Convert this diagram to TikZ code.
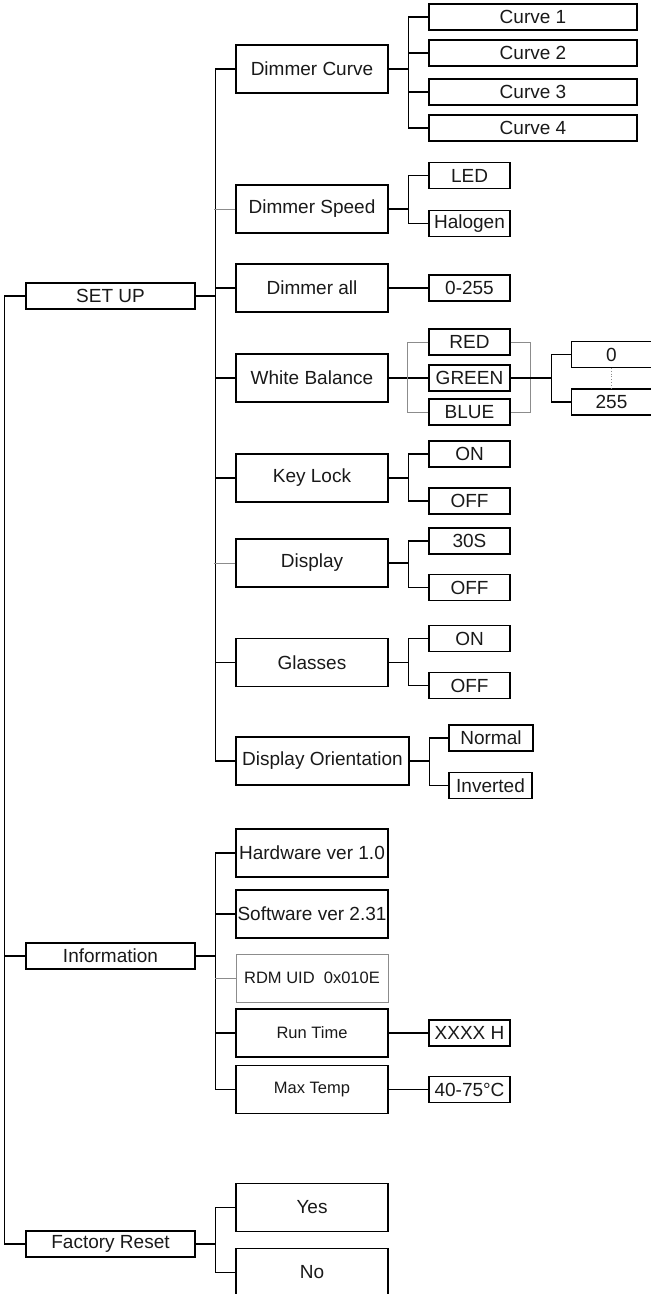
\documentclass[tikz,border=0pt]{standalone}
\usepackage{fontspec}
\setmainfont{Liberation Sans}

\begin{document}
\begin{tikzpicture}[x=1pt,y=-1pt,line width=1.1pt,font=\fontsize{19}{22}\selectfont]
    \tikzstyle{every node}=[draw,inner sep=0pt,line width=1.1pt,text=black!90]
    \tikzstyle{top}=[minimum width=169pt,minimum height=26pt]
    \tikzstyle{item}=[minimum width=152pt,minimum height=48pt]
    \tikzstyle{curve}=[minimum width=208pt,minimum height=26pt]
    \tikzstyle{value}=[minimum width=81pt,minimum height=26pt]
    \tikzstyle{faint}=[draw=black!45,line width=0.8pt]
    \tikzstyle{small}=[font=\fontsize{16.5}{19}\selectfont]
    \useasboundingbox (0,0) rectangle (651,1294);
    \node[top]  (setup)   at (110.5,296)  {SET UP};
    \node[top]  (info)    at (110.5,956)  {Information};
    \node[top]  (reset)   at (110.5,1244) {Factory Reset};
    \node[item] (dcurve)  at (312,69)     {Dimmer Curve};
    \node[item] (dspeed)  at (312,209)    {Dimmer Speed};
    \node[item] (dall)    at (312,288)    {Dimmer all};
    \node[item] (wbal)    at (312,378)    {White Balance};
    \node[item] (klock)   at (312,478)    {Key Lock};
    \node[item] (disp)    at (312,563)    {Display};
    \node[item] (glass)   at (312,662.5)  {Glasses};
    \node[item,minimum width=173pt] (dorient) at (322.5,761) {Display Orientation};
    \node[item] (hw)      at (312,853)    {Hardware ver 1.0};
    \node[item] (sw)      at (312,914)    {Software ver 2.31};
    \node[item,small,faint] (rdm) at (312,978) {RDM UID\ \ 0x010E};
    \node[item,small] (run)  at (312,1033)   {Run Time};
    \node[item,small] (maxt) at (312,1089.5) {Max Temp};
    \node[item] (yes)     at (312,1207.5) {Yes};
    \node[item] (no)      at (312,1272.5) {No};
    \node[curve] (c1)     at (533,17)     {Curve 1};
    \node[curve] (c2)     at (533,53)     {Curve 2};
    \node[curve] (c3)     at (533,92)     {Curve 3};
    \node[curve] (c4)     at (533,128)    {Curve 4};
    \node[value] (led)    at (469.5,175.5) {LED};
    \node[value] (halogen) at (469.5,223.5) {Halogen};
    \node[value] (range)  at (469.5,288)  {0-255};
    \node[value] (red)    at (469.5,342)  {RED};
    \node[value] (green)  at (469.5,378)  {GREEN};
    \node[value] (blue)   at (469.5,412)  {BLUE};
    \node[value] (kon)    at (469.5,454)  {ON};
    \node[value] (koff)   at (469.5,501)  {OFF};
    \node[value] (s30)    at (469.5,541)  {30S};
    \node[value] (doff)   at (469.5,587.5) {OFF};
    \node[value] (gon)    at (469.5,638.5) {ON};
    \node[value] (goff)   at (469.5,685.5) {OFF};
    \node[value,minimum width=84pt] (normal)   at (491,738)    {Normal};
    \node[value,minimum width=83pt] (inverted) at (490.5,785.5) {Inverted};
    \node[value] (xxxx)   at (469.5,1033)   {XXXX H};
    \node[value] (temp)   at (469.5,1089.5) {40-75\textdegree C};
    \node[value,minimum width=80pt] (zero) at (611.5,354.5) {0};
    \node[value,minimum width=80pt] (v255) at (611.5,402)   {255};
    \draw (setup.west) -- ++(-21,0) |- (info.west);
    \draw (setup.west) -- ++(-21,0) |- (reset.west);
    \foreach \n in {dcurve,dall,wbal,klock,glass,dorient}
        \draw (setup.east) -- ++(20,0) |- (\n.west);
    \foreach \n in {dspeed,disp}
        \draw[faint] (\n.west) -- ++(-21,0);
    \foreach \n in {c1,c2,c3,c4}
        \draw (dcurve.east) -- ++(20,0) |- (\n.west);
    \foreach \n in {led,halogen}
        \draw (dspeed.east) -- ++(20,0) |- (\n.west);
    \draw (dall) -- (range);
    \draw (wbal) -- (green);
    \draw[faint] (red.west) -- ++(-21,0) |- (blue.west);
    \draw[faint] (red.east) -- ++(20,0) |- (blue.east);
    \draw (green.east) -- ++(41,0) coordinate (fork);
    \foreach \n in {zero,v255}
        \draw (fork) |- (\n.west);
    \draw[faint,dotted] (zero) -- (v255);
    \foreach \n in {kon,koff}
        \draw (klock.east) -- ++(20,0) |- (\n.west);
    \foreach \n in {s30,doff}
        \draw (disp.east) -- ++(20,0) |- (\n.west);
    \foreach \n in {gon,goff}
        \draw (glass.east) -- ++(20,0) |- (\n.west);
    \foreach \n in {normal,inverted}
        \draw (dorient.east) -- ++(20,0) |- (\n.west);
    \foreach \n in {hw,sw,run,maxt}
        \draw (info.east) -- ++(20,0) |- (\n.west);
    \draw[faint] (rdm.west) -- ++(-21,0);
    \draw (run) -- (xxxx);
    \draw (maxt) -- (temp);
    \foreach \n in {yes,no}
        \draw (reset.east) -- ++(20,0) |- (\n.west);
\end{tikzpicture}
\end{document}
